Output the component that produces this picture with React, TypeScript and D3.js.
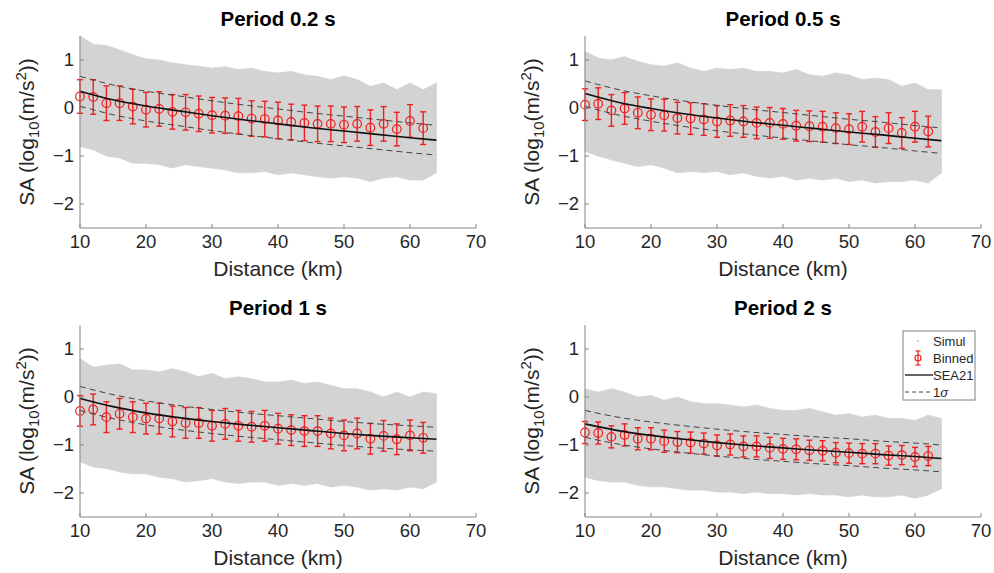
import React from "react";
import * as d3 from "d3";

// ---------- data ----------
const ENV_DIST = [10, 12, 14, 16, 18, 20, 22, 24, 26, 28, 30, 32, 34, 36, 38, 40, 42, 44, 46, 48, 50, 52, 54, 56, 58, 60, 62, 64];
const BIN_DIST = [10, 12, 14, 16, 18, 20, 22, 24, 26, 28, 30, 32, 34, 36, 38, 40, 42, 44, 46, 48, 50, 52, 54, 56, 58, 60, 62];
const MODEL_DIST = [10, 15, 20, 25, 30, 35, 40, 45, 50, 55, 60, 64];

const X_TICKS = [10, 20, 30, 40, 50, 60, 70];
const Y_TICKS = [1, 0, -1, -2];
const PERIOD_TITLES = ["Period 0.2 s", "Period 0.5 s", "Period 1 s", "Period 2 s"];
const LEGEND_LABELS = ["Simul", "Binned", "SEA21", "1σ"];

// Period 0.2 s
const P02_UPPER = [1.5, 1.33, 1.3, 1.21, 1.11, 1.02, 1.0, 0.94, 0.9, 0.87, 0.83, 0.86, 0.8, 0.83, 0.76, 0.73, 0.76, 0.69, 0.66, 0.59, 0.67, 0.59, 0.45, 0.52, 0.38, 0.52, 0.38, 0.52];
const P02_LOWER = [-0.8, -0.87, -1.0, -1.04, -1.15, -1.15, -1.18, -1.25, -1.18, -1.22, -1.25, -1.29, -1.35, -1.35, -1.32, -1.39, -1.35, -1.39, -1.43, -1.46, -1.43, -1.46, -1.53, -1.46, -1.43, -1.5, -1.5, -1.35];
const P02_BINNED = [0.24, 0.23, 0.1, 0.1, 0.03, -0.035, -0.02, -0.08, -0.09, -0.12, -0.15, -0.16, -0.17, -0.22, -0.23, -0.26, -0.29, -0.31, -0.33, -0.33, -0.35, -0.33, -0.41, -0.33, -0.44, -0.27, -0.42];
const P02_ERR = [0.35, 0.36, 0.36, 0.36, 0.36, 0.36, 0.36, 0.36, 0.37, 0.37, 0.37, 0.37, 0.37, 0.37, 0.37, 0.38, 0.37, 0.37, 0.37, 0.37, 0.37, 0.36, 0.37, 0.36, 0.35, 0.34, 0.34];
const P02_MODEL = [0.35, 0.17, 0.04, -0.06, -0.16, -0.25, -0.33, -0.41, -0.48, -0.55, -0.62, -0.67];
const P02_SIGMA = 0.31;

// Period 0.5 s
const P05_UPPER = [1.18, 1.04, 1.0, 1.07, 0.97, 0.9, 0.87, 0.94, 0.83, 0.76, 0.83, 0.8, 0.83, 0.76, 0.76, 0.73, 0.8, 0.69, 0.66, 0.73, 0.69, 0.59, 0.62, 0.59, 0.45, 0.52, 0.38, 0.38];
const P05_LOWER = [-0.9, -1.0, -1.08, -1.15, -1.22, -1.18, -1.25, -1.35, -1.32, -1.35, -1.32, -1.39, -1.35, -1.42, -1.46, -1.42, -1.5, -1.46, -1.5, -1.46, -1.53, -1.5, -1.56, -1.53, -1.53, -1.5, -1.56, -1.35];
const P05_BINNED = [0.07, 0.09, -0.05, -0.01, -0.1, -0.14, -0.15, -0.21, -0.22, -0.24, -0.28, -0.26, -0.28, -0.31, -0.31, -0.33, -0.37, -0.38, -0.39, -0.42, -0.44, -0.39, -0.5, -0.42, -0.52, -0.39, -0.49];
const P05_ERR = [0.33, 0.33, 0.33, 0.33, 0.33, 0.33, 0.33, 0.33, 0.33, 0.33, 0.33, 0.33, 0.33, 0.33, 0.32, 0.32, 0.32, 0.32, 0.32, 0.32, 0.32, 0.32, 0.32, 0.32, 0.32, 0.32, 0.32];
const P05_MODEL = [0.3, 0.12, -0.01, -0.12, -0.21, -0.29, -0.36, -0.43, -0.5, -0.56, -0.63, -0.68];
const P05_SIGMA = 0.265;

// Period 1 s
const P1_UPPER = [0.8, 0.62, 0.66, 0.69, 0.56, 0.56, 0.52, 0.59, 0.52, 0.42, 0.49, 0.38, 0.42, 0.38, 0.31, 0.31, 0.35, 0.28, 0.31, 0.24, 0.17, 0.17, 0.1, 0.0, 0.1, 0.0, 0.1, 0.07];
const P1_LOWER = [-1.35, -1.46, -1.49, -1.56, -1.6, -1.6, -1.67, -1.7, -1.77, -1.74, -1.7, -1.77, -1.8, -1.77, -1.77, -1.84, -1.8, -1.84, -1.8, -1.875, -1.84, -1.875, -1.94, -1.91, -1.94, -1.875, -1.91, -1.77];
const P1_BINNED = [-0.29, -0.26, -0.42, -0.35, -0.42, -0.45, -0.45, -0.51, -0.54, -0.54, -0.6, -0.56, -0.6, -0.62, -0.6, -0.66, -0.69, -0.71, -0.71, -0.76, -0.8, -0.76, -0.87, -0.81, -0.88, -0.8, -0.85];
const P1_ERR = [0.32, 0.32, 0.32, 0.32, 0.32, 0.32, 0.32, 0.32, 0.32, 0.32, 0.32, 0.32, 0.32, 0.32, 0.32, 0.32, 0.32, 0.32, 0.32, 0.32, 0.32, 0.32, 0.32, 0.32, 0.32, 0.32, 0.32];
const P1_MODEL = [-0.03, -0.2, -0.33, -0.43, -0.51, -0.58, -0.64, -0.7, -0.76, -0.81, -0.85, -0.88];
const P1_SIGMA = 0.25;

// Period 2 s
const P2_UPPER = [0.17, 0.1, 0.17, 0.1, 0.0, 0.03, -0.07, 0.0, -0.1, -0.14, -0.14, -0.17, -0.21, -0.17, -0.24, -0.28, -0.28, -0.24, -0.31, -0.38, -0.35, -0.42, -0.38, -0.45, -0.45, -0.49, -0.38, -0.45];
const P2_LOWER = [-1.67, -1.74, -1.77, -1.77, -1.84, -1.87, -1.87, -1.91, -1.94, -1.94, -1.98, -1.98, -2.01, -1.98, -2.01, -2.01, -2.04, -2.01, -2.04, -2.04, -2.08, -2.04, -2.08, -2.08, -2.04, -2.11, -2.04, -1.91];
const P2_BINNED = [-0.74, -0.75, -0.83, -0.79, -0.87, -0.87, -0.92, -0.94, -0.95, -0.97, -1.01, -0.99, -1.03, -1.03, -1.06, -1.08, -1.09, -1.11, -1.12, -1.16, -1.17, -1.18, -1.18, -1.22, -1.21, -1.25, -1.23];
const P2_ERR = [0.23, 0.23, 0.23, 0.23, 0.23, 0.23, 0.23, 0.22, 0.22, 0.22, 0.22, 0.22, 0.22, 0.22, 0.22, 0.22, 0.22, 0.21, 0.21, 0.21, 0.21, 0.21, 0.21, 0.2, 0.2, 0.2, 0.2];
const P2_MODEL = [-0.56, -0.7, -0.8, -0.88, -0.95, -1.01, -1.06, -1.11, -1.15, -1.2, -1.24, -1.28];
const P2_SIGMA = 0.28;

// ---------- styles ----------
const FONT = "'Liberation Sans', Arial, Helvetica, sans-serif";
const AXIS_COLOR = "#858585";
const TEXT_COLOR = "#262626";
const GRAY = "#d3d3d3";
const RED = "#f01e1e";

type PanelProps = {
  title: string;
  left: number;
  top: number;
  upper: number[];
  lower: number[];
  binned: number[];
  err: number[];
  model: number[];
  sigma: number;
  legend?: boolean;
};

const W = 396;
const H = 192;

function Panel(p: PanelProps) {
  const x = d3.scaleLinear().domain([10, 70]).range([p.left, p.left + W]);
  const y = d3.scaleLinear().domain([-2.5, 1.5]).range([p.top + H, p.top]);
  const bottom = p.top + H;

  const env = ENV_DIST.map((d, i) => ({ d, u: p.upper[i], l: p.lower[i] }));
  const area = d3
    .area<{ d: number; u: number; l: number }>()
    .x((e) => x(e.d))
    .y0((e) => y(e.l))
    .y1((e) => y(e.u));

  const line = d3
    .line<number>()
    .x((_, i) => x(MODEL_DIST[i]))
    .y((v) => y(v))
    .curve(d3.curveMonotoneX);

  const upperS = p.model.map((v) => v + p.sigma);
  const lowerS = p.model.map((v) => v - p.sigma);

  const fmt = (v: number) => (v < 0 ? "\u2212" + Math.abs(v) : String(v));

  return (
    <g>
      {/* simulations */}
      <path d={area(env) || ""} fill={GRAY} stroke={GRAY} strokeWidth={0.8} />

      {/* binned */}
      {BIN_DIST.map((d, i) => {
        const cx = x(d);
        const y1 = y(p.binned[i] + p.err[i]);
        const y2 = y(p.binned[i] - p.err[i]);
        return (
          <g key={d} stroke={RED} strokeWidth={1.4} fill="none">
            <line x1={cx} x2={cx} y1={y1} y2={y2} />
            <line x1={cx - 3} x2={cx + 3} y1={y1} y2={y1} />
            <line x1={cx - 3} x2={cx + 3} y1={y2} y2={y2} />
            <circle cx={cx} cy={y(p.binned[i])} r={4.3} strokeWidth={1.2} />
          </g>
        );
      })}

      {/* model */}
      <path d={line(p.model) || ""} fill="none" stroke="#111" strokeWidth={1.6} />
      <path d={line(upperS) || ""} fill="none" stroke="#444" strokeWidth={1} strokeDasharray="6,4" />
      <path d={line(lowerS) || ""} fill="none" stroke="#444" strokeWidth={1} strokeDasharray="6,4" />

      {/* axes */}
      <line x1={p.left} x2={p.left + W} y1={bottom} y2={bottom} stroke={AXIS_COLOR} strokeWidth={1} />
      <line x1={p.left} x2={p.left} y1={p.top} y2={bottom} stroke={AXIS_COLOR} strokeWidth={1} />
      {X_TICKS.map((t) => (
        <g key={"x" + t}>
          <line x1={x(t)} x2={x(t)} y1={bottom} y2={bottom - 4} stroke={AXIS_COLOR} />
          <text x={x(t)} y={bottom + 20} textAnchor="middle" fontSize={18.5} fill={TEXT_COLOR} fontFamily={FONT}>
            {t}
          </text>
        </g>
      ))}
      {Y_TICKS.map((t) => (
        <g key={"y" + t}>
          <line x1={p.left} x2={p.left + 4} y1={y(t)} y2={y(t)} stroke={AXIS_COLOR} />
          <text x={p.left - 6} y={y(t)} dy="0.35em" textAnchor="end" fontSize={18.5} fill={TEXT_COLOR} fontFamily={FONT}>
            {fmt(t)}
          </text>
        </g>
      ))}

      {/* labels */}
      <text x={p.left + W / 2} y={bottom + 48} textAnchor="middle" fontSize={21} fill={TEXT_COLOR} fontFamily={FONT}>
        Distance (km)
      </text>
      <text
        transform={`translate(${p.left - 46},${p.top + H / 2}) rotate(-90)`}
        textAnchor="middle"
        fontSize={21}
        fill={TEXT_COLOR}
        fontFamily={FONT}
      >
        SA (log
        <tspan fontSize={15} dy={5}>10</tspan>
        <tspan dy={-5}>(m/s</tspan>
        <tspan fontSize={15} dy={-8}>2</tspan>
        <tspan dy={8}>))</tspan>
      </text>
      <text x={p.left + W / 2} y={p.top - 10} textAnchor="middle" fontSize={20.5} fontWeight="bold" fill="#000" fontFamily={FONT}>
        {p.title}
      </text>

      {p.legend && <Legend left={p.left + W - 78} top={p.top + 6} />}
    </g>
  );
}

function Legend({ left, top }: { left: number; top: number }) {
  const rowY = (i: number) => top + 10 + i * 17;
  const tx = left + 30;
  const sx = left + 15;
  return (
    <g fontFamily={FONT} fontSize={13} fill={TEXT_COLOR}>
      <rect x={left} y={top} width={72} height={69} fill="#fff" stroke="#808080" strokeWidth={1} />
      <circle cx={sx} cy={rowY(0)} r={1} fill="#bbb" />
      <g stroke={RED} strokeWidth={1.2} fill="none">
        <line x1={sx} x2={sx} y1={rowY(1) - 7} y2={rowY(1) + 7} />
        <line x1={sx - 2.5} x2={sx + 2.5} y1={rowY(1) - 7} y2={rowY(1) - 7} />
        <line x1={sx - 2.5} x2={sx + 2.5} y1={rowY(1) + 7} y2={rowY(1) + 7} />
        <circle cx={sx} cy={rowY(1)} r={3} />
      </g>
      <line x1={left + 2} x2={tx} y1={rowY(2)} y2={rowY(2)} stroke="#111" strokeWidth={1.3} />
      <line x1={left + 2} x2={tx} y1={rowY(3)} y2={rowY(3)} stroke="#444" strokeWidth={1} strokeDasharray="4,3" />
      {LEGEND_LABELS.map((lab, i) => (
        <text key={lab} x={tx} y={rowY(i)} dy="0.35em">
          {i === 3 ? (
            <>
              1<tspan fontStyle="italic">σ</tspan>
            </>
          ) : (
            lab
          )}
        </text>
      ))}
    </g>
  );
}

export default function App() {
  return (
    <svg
      width={994}
      height={573}
      viewBox="0 0 994 573"
      style={{ position: "absolute", left: 0, top: 0, background: "#fff" }}
    >
      <rect width={994} height={573} fill="#fff" />
      <Panel title={PERIOD_TITLES[0]} left={80} top={36} upper={P02_UPPER} lower={P02_LOWER} binned={P02_BINNED} err={P02_ERR} model={P02_MODEL} sigma={P02_SIGMA} />
      <Panel title={PERIOD_TITLES[1]} left={585} top={36} upper={P05_UPPER} lower={P05_LOWER} binned={P05_BINNED} err={P05_ERR} model={P05_MODEL} sigma={P05_SIGMA} />
      <Panel title={PERIOD_TITLES[2]} left={80} top={325} upper={P1_UPPER} lower={P1_LOWER} binned={P1_BINNED} err={P1_ERR} model={P1_MODEL} sigma={P1_SIGMA} />
      <Panel title={PERIOD_TITLES[3]} left={585} top={325} upper={P2_UPPER} lower={P2_LOWER} binned={P2_BINNED} err={P2_ERR} model={P2_MODEL} sigma={P2_SIGMA} legend />
    </svg>
  );
}
